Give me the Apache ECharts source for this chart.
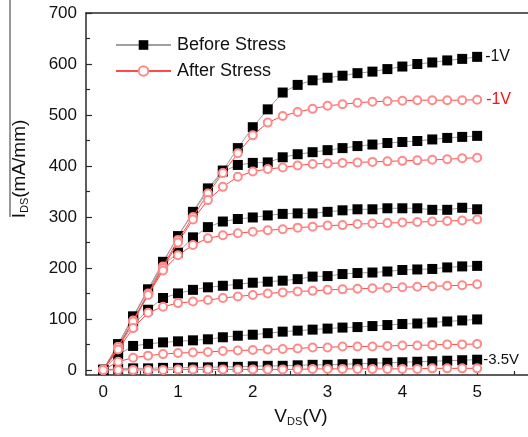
<!DOCTYPE html>
<html>
<head>
<meta charset="utf-8">
<script src="https://cdn.jsdelivr.net/npm/echarts@6/dist/echarts.min.js"></script>
<style>html,body{margin:0;padding:0;background:#fff;}#c{width:528px;height:437px;}</style>
</head>
<body>
<div id="c"></div>
<script>
// ---- data ----
const vds = [0,0.2,0.4,0.6,0.8,1.0,1.2,1.4,1.6,1.8,2.0,2.2,2.4,2.6,2.8,3.0,3.2,3.4,3.6,3.8,4.0,4.2,4.4,4.6,4.8,5.0];

const before_m1  = [0,50,105,158,212,262,310,356,391,435,476,511,544,559,568,573,577,582,585,590,595,600,603,607,610,614];
const before_m15 = [0,50,104,157,210,262,308,352,389,402,406,407,417,423,427,431,435,439,442,445,447,449,452,455,457,459];
const before_m2  = [0,50,103,155,205,230,260,280,291,296,299,303,306,307,307,310,313,315,315,317,317,317,314,314,318,315];
const before_m25 = [0,45,88,118,141,150,157,162,165,168,171,173,175,178,183,184,188,190,191,193,196,197,198,201,203,204];
const before_m3  = [0,30,47,51,54,56,58,60,64,67,69,72,75,77,79,81,83,84,86,88,90,91,93,95,97,99];
const before_m35 = [0,2,3,3,4,4,5,5,6,6,7,8,8,9,10,10,11,12,13,14,15,16,17,18,19,20];

const after_m1  = [0,45,97,150,203,255,300,346,386,425,460,485,498,506,512,518,521,524,526,527,528,529,529,529,529,530];
const after_m15 = [0,45,95,148,200,250,295,333,359,379,389,394,397,401,404,405,406,407,408,409,410,411,412,413,415,416];
const after_m2  = [0,45,95,147,195,225,245,258,264,268,271,274,276,279,281,283,284,286,287,288,289,290,291,292,293,295];
const after_m25 = [0,40,82,112,124,131,134,137,141,144,147,150,152,154,155,157,158,159,160,161,162,163,164,165,166,168];
const after_m3  = [0,16,24,28,31,33,34,35,37,38,39,40,41,42,44,44,46,46,46,47,48,48,49,50,50,51];
const after_m35 = [0,0,0,0,0,1,1,1,1,1,1,1,1,1,2,2,2,2,2,2,2,2,3,3,3,3];

const xMajor = [0,1,2,3,4,5];
const xMinor = [0.5,1.5,2.5,3.5,4.5,5.5];
const yMajor = [0,100,200,300,400,500,600,700];
const yMinor = [50,150,250,350,450,550,650];

const beforeName = 'Before Stress';
const afterName = 'After Stress';

// ---- chart ----
const chart = echarts.init(document.getElementById('c'), null, {renderer: 'canvas'});
const FONT = 'Liberation Sans, Arial, sans-serif';
const axisColor = '#2a2a2a';

function pair(arr){ return vds.map((v,i)=>[v, arr[i]]); }

function beforeSeries(arr, label){
  const s = {
    name: beforeName, type: 'line', data: pair(arr),
    symbol: 'rect', symbolSize: 10,
    itemStyle: {color: '#000'},
    lineStyle: {color: '#a0a0a0', width: 1},
    z: 3, silent: true
  };
  if (label) s.endLabel = {show: true, formatter: label.text, color: '#111', fontSize: label.size, fontFamily: FONT, distance: label.dist};
  return s;
}
function afterSeries(arr, label){
  const s = {
    name: afterName, type: 'line', data: pair(arr),
    symbol: 'emptyCircle', symbolSize: 8,
    itemStyle: {color: '#ff8a8a', borderWidth: 1.3},
    lineStyle: {color: '#ff4a4a', width: 1},
    z: 4, silent: true
  };
  if (label) s.endLabel = {show: true, formatter: label.text, color: '#ff1010', fontSize: label.size, fontFamily: FONT, distance: label.dist};
  return s;
}

const xLo = -0.23, xHi = 5.68, yLo = -10, yHi = 700;

chart.setOption({
  animation: false,
  backgroundColor: '#fff',
  grid: {left: 86, right: 0, top: 13, bottom: 62, containLabel: false},
  legend: {
    data: [beforeName, afterName],
    orient: 'vertical', left: 110, top: 31,
    itemWidth: 55, itemHeight: 12, itemGap: 8,
    textStyle: {fontSize: 18, fontFamily: FONT, color: '#111', padding: [0,0,0,1]},
    selectedMode: false
  },
  xAxis: [
    {type: 'value', position: 'bottom', min: xLo, max: xHi,
     axisLine: {show: true, onZero: false, lineStyle: {color: axisColor, width: 1.5}},
     axisTick: {show: true, inside: true, length: 6, customValues: xMajor, lineStyle: {color: axisColor, width: 1.2}},
     axisLabel: {show: true, customValues: xMajor, fontSize: 17, fontFamily: FONT, color: '#111', margin: 9},
     splitLine: {show: false}},
    {type: 'value', position: 'bottom', min: xLo, max: xHi,
     axisLine: {show: false, onZero: false},
     axisTick: {show: true, inside: true, length: 4, customValues: xMinor, lineStyle: {color: axisColor, width: 1.2}},
     axisLabel: {show: false}, splitLine: {show: false}},
    {type: 'value', position: 'top', min: xLo, max: xHi,
     axisLine: {show: true, onZero: false, lineStyle: {color: axisColor, width: 1.5}},
     axisTick: {show: false}, axisLabel: {show: false}, splitLine: {show: false}}
  ],
  yAxis: [
    {type: 'value', position: 'left', min: yLo, max: yHi,
     axisLine: {show: true, onZero: false, lineStyle: {color: axisColor, width: 1.5}},
     axisTick: {show: true, inside: true, length: 6, customValues: yMajor, lineStyle: {color: axisColor, width: 1.2}},
     axisLabel: {show: true, customValues: yMajor, fontSize: 17, fontFamily: FONT, color: '#111', margin: 9},
     splitLine: {show: false}},
    {type: 'value', position: 'left', min: yLo, max: yHi,
     axisLine: {show: false, onZero: false},
     axisTick: {show: true, inside: true, length: 4, customValues: yMinor, lineStyle: {color: axisColor, width: 1.2}},
     axisLabel: {show: false}, splitLine: {show: false}}
  ],
  series: [
    beforeSeries(before_m1, {text: '-1V', size: 16, dist: 8}),
    beforeSeries(before_m15),
    beforeSeries(before_m2),
    beforeSeries(before_m25),
    beforeSeries(before_m3),
    beforeSeries(before_m35, {text: '-3.5V', size: 15, dist: 6}),
    afterSeries(after_m1, {text: '-1V', size: 16, dist: 9}),
    afterSeries(after_m15),
    afterSeries(after_m2),
    afterSeries(after_m25),
    afterSeries(after_m3),
    afterSeries(after_m35)
  ],
  graphic: [
    {type: 'line', shape: {x1: 10, y1: 0, x2: 10, y2: 217}, style: {stroke: '#333', lineWidth: 1}, silent: true},
    {type: 'text', x: 20, y: 169, rotation: Math.PI/2, silent: true,
     style: {text: '{a|I}{b|DS}{a|(mA/mm)}', align: 'center', verticalAlign: 'middle',
       rich: {a: {fontSize: 19, fontFamily: FONT, fill: '#111'},
              b: {fontSize: 11, fontFamily: FONT, fill: '#111', padding: [10,0,0,0]}}}},
    {type: 'text', x: 301, y: 417, silent: true,
     style: {text: '{a|V}{b|DS}{a|(V)}', align: 'center', verticalAlign: 'middle',
       rich: {a: {fontSize: 19, fontFamily: FONT, fill: '#111'},
              b: {fontSize: 11, fontFamily: FONT, fill: '#111', padding: [10,0,0,0]}}}}
  ]
});
</script>
</body>
</html>
